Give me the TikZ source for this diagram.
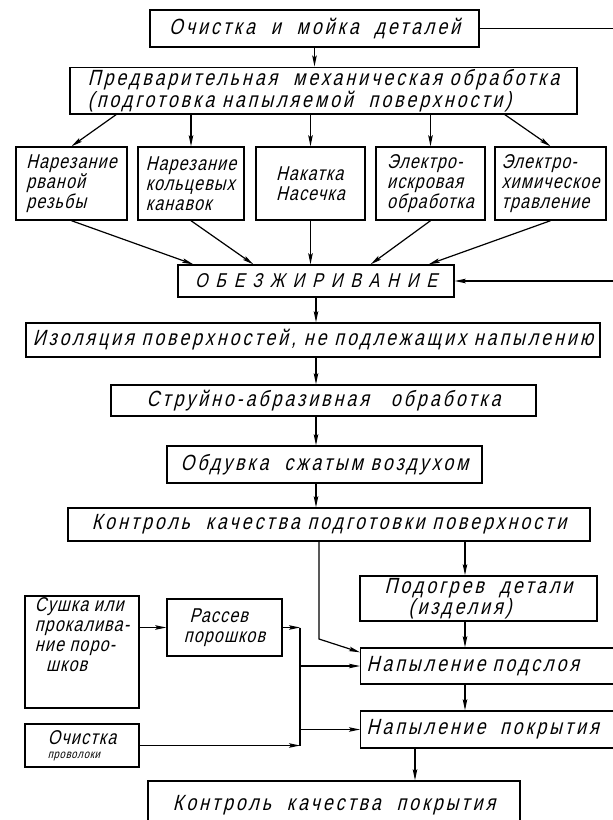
\documentclass[tikz,border=0pt]{standalone}
\usepackage{fontspec}
\setmainfont{Liberation Sans}
\newfontfamily\gostfont[FakeSlant=0.25, FakeStretch=0.8, LetterSpace=14]{Liberation Sans}
\newfontfamily\gostrow[FakeSlant=0.25, FakeStretch=0.8, LetterSpace=6]{Liberation Sans}
\newfontfamily\gostcaps[FakeSlant=0.25, FakeStretch=0.8, LetterSpace=40]{Liberation Sans}
\newcommand\bigtxt{\gostfont\fontsize{22}{19}\selectfont}
\newcommand\rowtxt{\gostrow\fontsize{20}{20}\selectfont}
\usetikzlibrary{arrows.meta}

\begin{document}
\begin{tikzpicture}[x=1pt, y=-1pt, >={Stealth[length=11pt,width=4.5pt,inset=2pt]},
        box/.style={draw, line width=1.4pt, inner sep=2pt, font=\bigtxt},
        rowbox/.style={box, font=\rowtxt, align=left, minimum height=73pt},
        link/.style={->, line width=1.2pt}]
        \useasboundingbox (0,0) rectangle (613,820);
        % top part
        \node [box, minimum width=329pt, minimum height=37pt] (cleaning) at (314.5,28.5) {Очистка\ \ и\ \ мойка\ \ деталей};
        \node [box, align=left, minimum width=507pt, minimum height=45pt] (premech) at (323.5,90.5) {Предварительная\ \ механическая обработка\\(подготовка напыляемой\ \ поверхности)};
        \node [rowbox, minimum width=111pt] (tear) at (71.5,183.5) {Нарезание\\рваной\\резьбы};
        \node [rowbox, minimum width=106pt] (groove) at (191,183.5) {Нарезание\\кольцевых\\канавок};
        \node [rowbox, minimum width=109pt] (knurl) at (310.5,183.5) {Накатка\\Насечка};
        \node [rowbox, minimum width=109pt] (spark) at (430.5,183.5) {Электро-\\искровая\\обработка};
        \node [rowbox, minimum width=111pt] (etch) at (550.5,183.5) {Электро-\\химическое\\травление};
        \node [box, font=\gostcaps\fontsize{20}{20}\selectfont, minimum width=276pt, minimum height=32pt] (degrease) at (316,281) {ОБЕЗЖИРИВАНИЕ};
        % main column
        \node [box, minimum width=574pt, minimum height=34pt] (isolate) at (313,340) {Изоляция поверхностей, не подлежащих напылению};
        \node [box, minimum width=425pt, minimum height=31pt] (abrasive) at (323.5,400.5) {Струйно-абразивная\hspace{22pt}обработка};
        \node [box, minimum width=315pt, minimum height=37pt] (blow) at (324.5,464.5) {Обдувка\ \ сжатым воздухом};
        \node [box, minimum width=522pt, minimum height=33pt] (control) at (329,524.5) {Контроль\ \ качества подготовки поверхности};
        % spraying
        \node [box, align=left, minimum width=237pt, minimum height=45pt] (heat) at (478.5,598.5) {Подогрев\ \ детали\\\ \ \ (изделия)};
        \node [box, anchor=west, text width=268pt, inner xsep=6pt, align=left, minimum height=36pt] (sublayer) at (360,666) {Напыление подслоя};
        \node [box, anchor=west, text width=268pt, inner xsep=6pt, align=left, minimum height=37pt] (coating) at (360,729.5) {Напыление\ \ покрытия};
        \node [box, minimum width=372pt, minimum height=49pt] (final) at (334,805.5) {Контроль\ \ качества\ \ покрытия};
        % powders and wire
        \node [rowbox, align=left, minimum width=114pt, minimum height=106pt] (dry) at (82,652) {Сушка или\\прокалива-\\ние поро-\\\ \ шков\\[14pt]};
        \node [rowbox, align=left, minimum width=115pt, minimum height=57pt] (sieve) at (224.5,627.5) {\ Рассев\\порошков};
        \node [rowbox, align=left, minimum width=114pt, minimum height=43pt] (wire) at (82,745.5) {Очистка\\[-6pt]{\fontsize{12}{12}\selectfont проволоки}};

        \coordinate (rtop) at (620,28.5);
        \coordinate (rbot) at (620,281);
        \coordinate (hx) at ([xshift=-13.5pt]heat.north);
        \coordinate (bend) at (319,639);
        \coordinate (bustop) at (300,627.5);
        \coordinate (busbot) at (300,745.5);
        \coordinate (cx) at ([xshift=81pt]final.north);

        \draw [line width=1.2pt] (cleaning) -- (rtop) -- (rbot);
        \draw [link] (rbot) -- (degrease);
        \draw [link] (cleaning.south) -- (cleaning.south |- premech.north);
        \draw [link] ([xshift=47pt]premech.south west) -- (tear.north);
        \draw [link] (premech.south -| groove.north) -- (groove.north);
        \draw [link] (premech.south -| knurl.north) -- (knurl.north);
        \draw [link] (premech.south -| spark.north) -- (spark.north);
        \draw [link] ([xshift=-73pt]premech.south east) -- (etch.north);
        \draw [link] (tear.south) -- ([xshift=16pt]degrease.north west);
        \draw [link] (groove.south) -- ([xshift=76pt]degrease.north west);
        \draw [link] (knurl.south) -- (knurl.south |- degrease.north);
        \draw [link] (spark.south) -- ([xshift=-84pt]degrease.north east);
        \draw [link] (etch.south) -- ([xshift=-26pt]degrease.north east);
        \draw [link] (degrease.south) -- (degrease.south |- isolate.north);
        \draw [link] (degrease.south |- isolate.south) -- (degrease.south |- abrasive.north);
        \draw [link] (degrease.south |- abrasive.south) -- (degrease.south |- blow.north);
        \draw [link] (degrease.south |- blow.south) -- (degrease.south |- control.north);
        \draw [link] (hx |- control.south) -- (hx);
        \draw [link] (hx |- heat.south) -- (hx |- sublayer.north);
        \draw [link] (hx |- sublayer.south) -- (hx |- coating.north);
        \draw [link] (bend |- control.south) -- (bend) -- ([yshift=-5pt]sublayer.north west);
        \draw [link] (dry.east |- sieve.west) -- (sieve.west);
        \draw [link] (sieve.east) -- (bustop);
        \draw [link] (wire.east) -- (busbot);
        \draw [line width=1.2pt] (bustop) -- (busbot);
        \draw [link] (bustop |- sublayer.west) -- (sublayer.west);
        \draw [link] (bustop |- coating.west) -- (coating.west);
        \draw [link] (cx |- coating.south) -- (cx);
\end{tikzpicture}
\end{document}
